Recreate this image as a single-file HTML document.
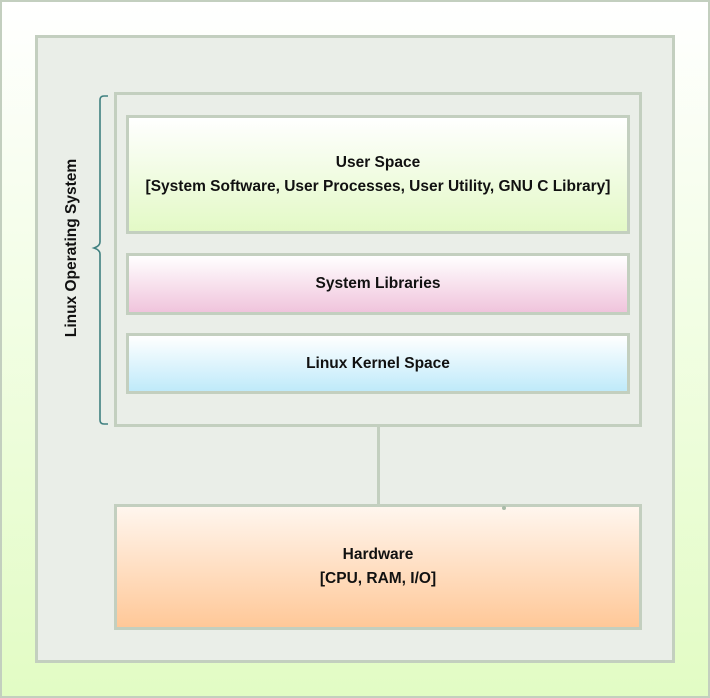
<!DOCTYPE html>
<html><head><meta charset="utf-8"><style>
*{margin:0;padding:0;box-sizing:border-box}
body{width:710px;height:698px;position:relative;overflow:hidden;font-family:"Liberation Sans",sans-serif;font-weight:bold;color:#111}
.frame{position:absolute;left:0;top:0;width:710px;height:698px;border:2px solid #c3cfbf;background:linear-gradient(#ffffff,#e2fcc4)}
.panel{position:absolute;left:35px;top:35px;width:640px;height:628px;background:#eaeee8;border:3px solid #c3cfbf}
.box{position:absolute;border:3px solid #c3cfbf;display:flex;flex-direction:column;align-items:center;justify-content:center;font-size:15.5px;line-height:24px;text-align:center}
.lbl{position:absolute;left:72px;top:248px;transform:translate(-50%,-50%) rotate(-90deg);font-size:15.5px;white-space:nowrap}
</style></head><body>
<div class="frame"></div>
<div class="panel"></div>
<div class="box" style="left:114px;top:92px;width:528px;height:335px;background:#eaeee8"></div>
<div class="box" style="left:126px;top:115px;width:504px;height:119px;background:linear-gradient(#ffffff,#e3f9c6)"><div>User Space</div><div>[System Software, User Processes, User Utility, GNU C Library]</div></div>
<div class="box" style="left:126px;top:253px;width:504px;height:62px;background:linear-gradient(#ffffff,#f0c4dc)">System Libraries</div>
<div class="box" style="left:126px;top:333px;width:504px;height:61px;background:linear-gradient(#ffffff,#bfeafa)">Linux Kernel Space</div>
<div style="position:absolute;left:377px;top:426px;width:3px;height:79px;background:#c3cfbf"></div>
<div class="box" style="left:114px;top:504px;width:528px;height:126px;background:linear-gradient(#fff6ee,#ffc898)"><div>Hardware</div><div>[CPU, RAM, I/O]</div></div>
<div style="position:absolute;left:502px;top:506px;width:4px;height:4px;border-radius:2px;background:#a8bba8"></div>
<svg style="position:absolute;left:0;top:0" width="710" height="698"><path d="M108 96 H104 Q100 96 100 100 V242 Q100 246 94 248 Q100 250 100 254 V420 Q100 424 104 424 H108" fill="none" stroke="#3f8080" stroke-width="1.6"/></svg>
<div class="lbl">Linux Operating System</div>
</body></html>
